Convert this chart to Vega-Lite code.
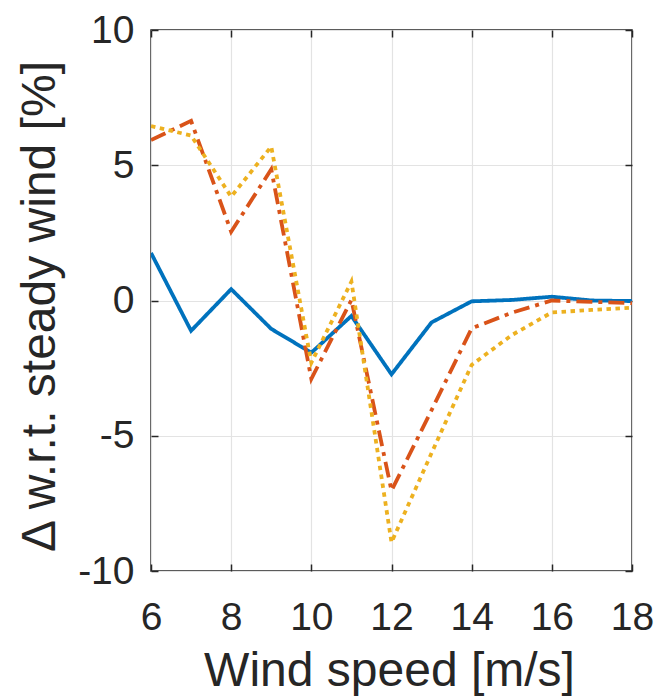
{
  "$schema": "https://vega.github.io/schema/vega-lite/v6.json",
  "width": 481,
  "height": 541,
  "autosize": {"type": "none"},
  "padding": {"left": 151, "top": 30, "right": 27, "bottom": 126},
  "config": {
    "font": "Liberation Sans",
    "view": {"stroke": "#262626", "strokeWidth": 1.5},
    "axis": {
      "domain": false,
      "labelFont": "Liberation Sans",
      "titleFont": "Liberation Sans",
      "labelColor": "#262626",
      "titleColor": "#262626",
      "tickColor": "#262626",
      "tickSize": -7,
      "tickWidth": 1.5,
      "gridColor": "#e3e3e3",
      "gridWidth": 1.2,
      "titleFontWeight": "normal"
    }
  },
  "data": {
    "values": [
      {"ws": 6, "d": 1.76, "s": "A"},
      {"ws": 7, "d": -1.12, "s": "A"},
      {"ws": 8, "d": 0.42, "s": "A"},
      {"ws": 9, "d": -1.05, "s": "A"},
      {"ws": 10, "d": -1.93, "s": "A"},
      {"ws": 11, "d": -0.57, "s": "A"},
      {"ws": 12, "d": -2.73, "s": "A"},
      {"ws": 13, "d": -0.81, "s": "A"},
      {"ws": 14, "d": -0.03, "s": "A"},
      {"ws": 15, "d": 0.02, "s": "A"},
      {"ws": 16, "d": 0.14, "s": "A"},
      {"ws": 17, "d": 0.0, "s": "A"},
      {"ws": 18, "d": -0.02, "s": "A"},
      {"ws": 6, "d": 5.93, "s": "B"},
      {"ws": 7, "d": 6.64, "s": "B"},
      {"ws": 8, "d": 2.54, "s": "B"},
      {"ws": 9, "d": 4.85, "s": "B"},
      {"ws": 10, "d": -2.9, "s": "B"},
      {"ws": 11, "d": 0.02, "s": "B"},
      {"ws": 12, "d": -7.03, "s": "B"},
      {"ws": 13, "d": -4.05, "s": "B"},
      {"ws": 14, "d": -1.03, "s": "B"},
      {"ws": 15, "d": -0.45, "s": "B"},
      {"ws": 16, "d": 0.0, "s": "B"},
      {"ws": 17, "d": -0.05, "s": "B"},
      {"ws": 18, "d": -0.1, "s": "B"},
      {"ws": 6, "d": 6.45, "s": "C"},
      {"ws": 7, "d": 6.1, "s": "C"},
      {"ws": 8, "d": 3.84, "s": "C"},
      {"ws": 9, "d": 5.69, "s": "C"},
      {"ws": 10, "d": -2.3, "s": "C"},
      {"ws": 11, "d": 0.7, "s": "C"},
      {"ws": 12, "d": -8.94, "s": "C"},
      {"ws": 13, "d": -5.64, "s": "C"},
      {"ws": 14, "d": -2.38, "s": "C"},
      {"ws": 15, "d": -1.28, "s": "C"},
      {"ws": 16, "d": -0.44, "s": "C"},
      {"ws": 17, "d": -0.35, "s": "C"},
      {"ws": 18, "d": -0.27, "s": "C"}
    ]
  },
  "resolve": {"axis": {"x": "independent", "y": "independent"}},
  "layer": [
    {
      "mark": {"type": "line", "strokeWidth": 3.8, "clip": true, "strokeCap": "butt"},
      "encoding": {
        "x": {
          "field": "ws", "type": "quantitative",
          "scale": {"domain": [6, 18], "nice": false, "zero": false},
          "axis": {
            "orient": "bottom",
            "values": [6, 8, 10, 12, 14, 16, 18],
            "labelFontSize": 39,
            "labelPadding": 34,
            "labelFlush": false,
            "title": "Wind speed [m/s]",
            "titleFontSize": 48,
            "titleBaseline": "alphabetic",
            "titleY": 114,
            "titleX": 238
          }
        },
        "y": {
          "field": "d", "type": "quantitative",
          "scale": {"domain": [-10, 10], "nice": false},
          "axis": {
            "orient": "left",
            "values": [-10, -5, 0, 5, 10],
            "labelExpr": "'' + datum.value",
            "labelFontSize": 39,
            "labelPadding": 24,
            "labelFlush": false,
            "title": "Δ w.r.t. steady wind [%]",
            "titleFontSize": 48,
            "titleBaseline": "alphabetic",
            "titleAngle": -90,
            "titleX": -97,
            "titleY": 276
          }
        },
        "color": {
          "field": "s", "type": "nominal",
          "scale": {"domain": ["A", "B", "C"], "range": ["#0072BD", "#D95319", "#EDB120"]},
          "legend": null
        },
        "strokeDash": {
          "field": "s", "type": "nominal",
          "scale": {"domain": ["A", "B", "C"], "range": [[1, 0], [16, 6, 4, 6], [4.5, 4.5]]},
          "legend": null
        },
        "order": {"field": "ws", "type": "quantitative"}
      }
    },
    {
      "mark": {"type": "point", "opacity": 0},
      "encoding": {
        "x": {
          "field": "ws", "type": "quantitative",
          "axis": {"orient": "top", "values": [6, 8, 10, 12, 14, 16, 18], "labels": false, "grid": false, "title": null}
        },
        "y": {
          "field": "d", "type": "quantitative",
          "axis": {"orient": "right", "values": [-10, -5, 0, 5, 10], "labels": false, "grid": false, "title": null}
        }
      }
    }
  ]
}
